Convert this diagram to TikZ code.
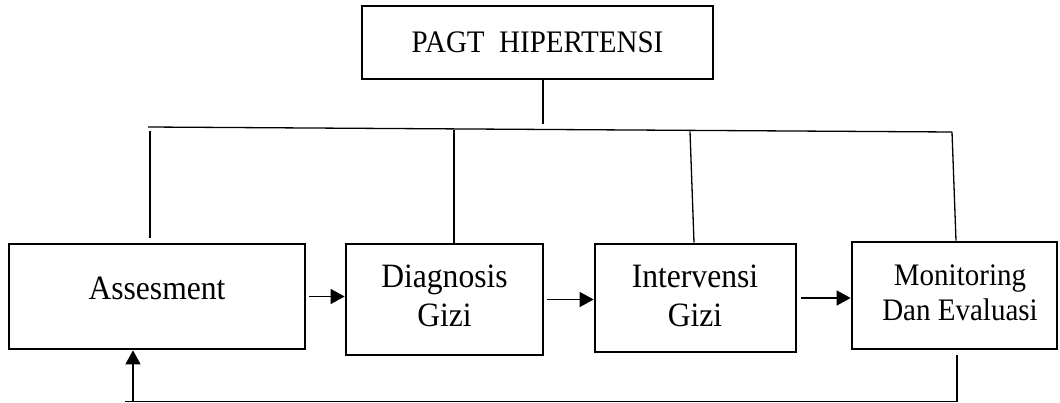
\documentclass[tikz,border=0pt]{standalone}
\usepackage{fontspec}
\usepackage{graphicx}
\setmainfont{Liberation Serif}
\usetikzlibrary{arrows.meta}
\newcommand\tallt[1]{\scalebox{1}[1.08]{#1}}
\begin{document}
\begin{tikzpicture}[x=1pt,y=-1pt,
  box/.style={draw, line width=2.7pt, inner sep=0pt},
  conn/.style={line width=1.3pt},
  arr/.style={line width=1.3pt, -{Triangle[length=14pt,width=15pt]}},
  big/.style={font=\fontsize{31.6}{39.5}\selectfont, inner sep=0pt, align=center},
  small/.style={font=\fontsize{29}{35}\selectfont, inner sep=0pt, align=center}]
\useasboundingbox (0,0) rectangle (1060,403);
% title
\node[box, minimum width=351pt, minimum height=73pt, small] (title) at (537.5,42.5) {\tallt{PAGT\ \ HIPERTENSI}};
% boxes
\node[box, minimum width=296pt, minimum height=105pt] (ass) at (157,296.5) {};
\node[box, minimum width=197pt, minimum height=111pt] (diag) at (444.5,299.5) {};
\node[box, minimum width=201pt, minimum height=108pt] (interv) at (695.5,298) {};
\node[box, minimum width=205pt, minimum height=107pt] (mon) at (954.5,295.5) {};
% texts (anchor = baseline of last line)
\node[big, anchor=base] (tass) at (157,299) {\tallt{Assesment}};
\node[big, anchor=base] (tdiag) at (444.5,326.5) {\tallt{Diagnosis}\\\tallt{Gizi}};
\node[big, anchor=base] (tinterv) at (695,326.5) {\tallt{Intervensi}\\\tallt{Gizi}};
\node[small, anchor=base] (tmon) at (960,320) {\tallt{Monitoring}\\\tallt{Dan Evaluasi}};
% bus
\coordinate (bustop) at (543,124);
\coordinate (busL) at (148,127);
\coordinate (busR) at (952,132);
\coordinate (d1) at (150,131.5);
\coordinate (d2) at (454,130.5);
\coordinate (d3) at (690,131.5);
\draw[conn] (title.south -| bustop) -- (bustop);
\draw[conn] (busL) -- (busR);
\draw[conn] (d1) -- ([yshift=5pt]d1 |- ass.north);
\draw[conn] (d2) -- (d2 |- diag.north);
\draw[conn] (d3) -- ([xshift=4pt]d3 |- interv.north);
\draw[conn] (busR) -- ([xshift=4pt]busR |- mon.north);
% flow arrows
\draw[arr] ([xshift=3pt]ass.east) -- (ass.east -| diag.west);
\draw[arr] ([xshift=3pt]diag.east) -- (diag.east -| interv.west);
\draw[arr] ([xshift=4pt]interv.east) -- (interv.east -| mon.west);
% feedback
\coordinate (fbR) at (957,401.5);
\coordinate (fbL) at (125,401.5);
\coordinate (fbA) at (133,401.5);
\draw[conn] ([yshift=-5pt]fbR |- mon.south) -- (fbR) -- (fbL);
\draw[arr] (fbA) -- (fbA |- ass.south);
\end{tikzpicture}
\end{document}
